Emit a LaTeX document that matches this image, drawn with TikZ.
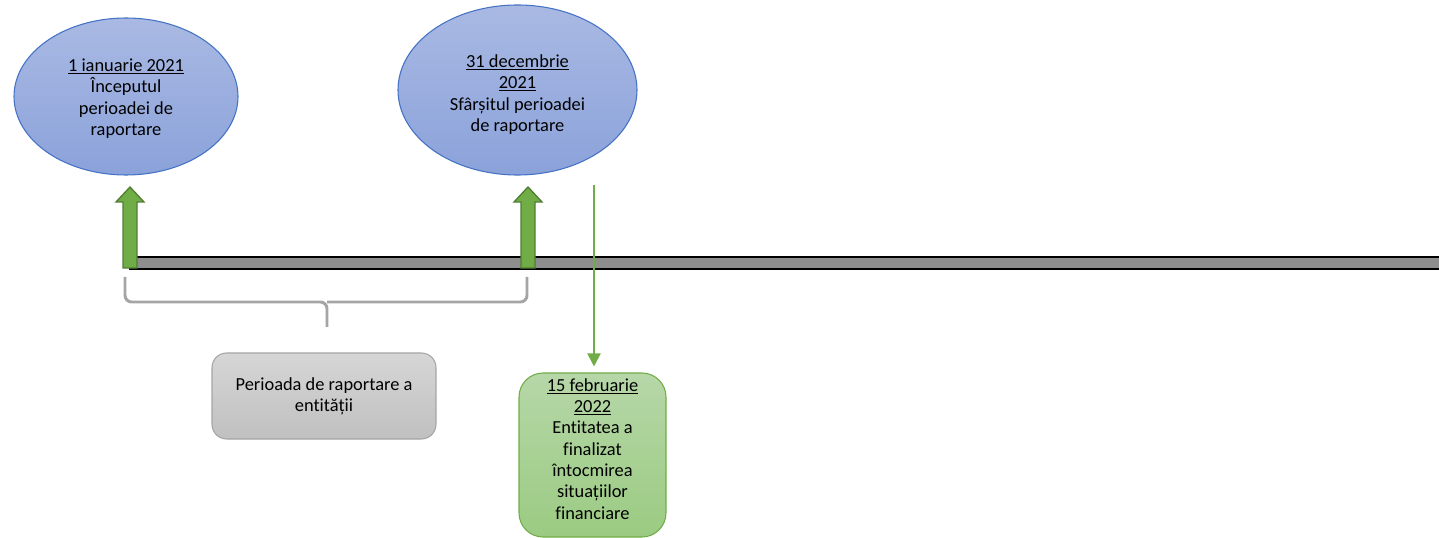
\documentclass[tikz,border=0pt]{standalone}
\usepackage{fontspec}
\setmainfont{Carlito}[Ligatures={NoCommon}]
\usetikzlibrary{shapes.geometric,arrows.meta}
\definecolor{blueTop}{HTML}{A9B9E3}
\definecolor{blueBot}{HTML}{8BA2DA}
\definecolor{blueEdge}{HTML}{4472C4}
\definecolor{grn}{HTML}{70AD47}
\definecolor{grnEdge}{HTML}{507E32}
\definecolor{grnTop}{HTML}{B6D7A8}
\definecolor{grnBot}{HTML}{9BCB82}
\definecolor{greyTop}{HTML}{D6D6D6}
\definecolor{greyBot}{HTML}{C0C0C0}
\definecolor{greyEdge}{HTML}{A5A5A5}
\definecolor{barFill}{HTML}{8E8E8E}
\tikzset{
  txt/.style={font=\fontsize{13.8}{16}\selectfont, align=center, inner sep=0pt},
  datebubble/.style={ellipse, draw=blueEdge, line width=0.8pt,
    top color=blueTop, bottom color=blueBot},
  periodbox/.style={txt, rectangle, rounded corners=11pt, draw=greyEdge, line width=0.8pt,
    top color=greyTop, bottom color=greyBot, minimum width=168pt, minimum height=64.5pt},
  finbox/.style={rectangle, rounded corners=18pt, draw=grn, line width=0.8pt,
    top color=grnTop, bottom color=grnBot, minimum width=110.25pt, minimum height=123pt},
  timebar/.style={draw=black, line width=1.3pt, fill=barFill},
  blockarrow/.style={draw=grnEdge, line width=1pt, fill=grn, line join=miter},
  brace/.style={draw=greyEdge, line width=2.2pt, rounded corners=5pt},
  pointer/.style={draw=grn, line width=1.5pt, -{Triangle[length=9.75pt,width=9.75pt]}},
  uparrow/.pic={\path[blockarrow] (-7,0) -- (-7,-66) -- (-14,-66) -- (0,-81)
     -- (14,-66) -- (7,-66) -- (7,0) -- cycle;}
}
\begin{document}
\begin{tikzpicture}[x=0.75pt,y=-0.75pt]
\useasboundingbox (0,0) rectangle (1439,538);

% time line
\path[timebar] (130,257) rectangle (1450,269);

% start and end of the reporting period
\node[datebubble, minimum width=168pt, minimum height=117.75pt] (start) at (126,96.5) {};
\node[txt] (startlabel) at (126,98.5)
  {\underline{1 ianuarie 2021}\\Începutul\\perioadei de\\raportare};
\node[datebubble, minimum width=179.25pt, minimum height=127.5pt] (end) at (517.5,90) {};
\node[txt] (endlabel) at (517.5,94.5)
  {\underline{31 decembrie}\\\underline{2021}\\Sfârșitul perioadei\\de raportare};

\pic at (130,268) {uparrow};
\pic at (528,268) {uparrow};

% brace spanning the reporting period
\path[brace] (125,277) |- (327,302) -- (327,327);
\path[brace] (527,277) |- (327,302);

\node[periodbox] (period) at (324,396) {Perioada de raportare a\\entității};

% completion of the financial statements
\node[finbox] (fin) at (592.5,455) {};
\node[txt] (finlabel) at (592.5,449)
  {\underline{15 februarie}\\\underline{2022}\\Entitatea a\\finalizat\\întocmirea\\situațiilor\\financiare};
\coordinate (ft) at (594,185);
\draw[pointer, shorten >=4.5pt] (ft) -- (ft |- fin.north);
\end{tikzpicture}
\end{document}
